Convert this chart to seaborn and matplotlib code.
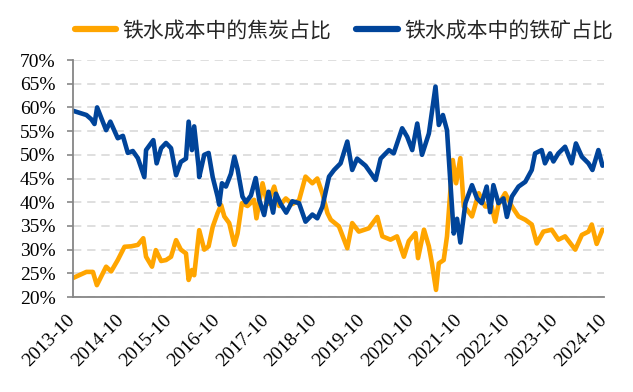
import matplotlib
matplotlib.use("Agg")
import matplotlib.pyplot as plt
import matplotlib.dates as mdates
import seaborn as sns
import pandas as pd
from matplotlib.ticker import MultipleLocator, PercentFormatter

# ---- data ----
coke_dates = ["2013-10-03", "2014-01-13", "2014-03-03", "2014-04-02", "2014-06-11", "2014-07-19",
              "2014-09-07", "2014-10-28", "2014-12-18", "2015-02-06", "2015-03-19", "2015-04-09",
              "2015-05-24", "2015-06-22", "2015-08-01", "2015-09-07", "2015-10-15", "2015-11-22",
              "2015-12-28", "2016-02-05", "2016-02-25", "2016-03-21", "2016-04-07", "2016-05-15",
              "2016-06-22", "2016-07-25", "2016-08-25", "2016-10-01", "2016-10-28", "2016-11-21",
              "2016-12-28", "2017-02-05", "2017-03-01", "2017-04-03", "2017-05-15", "2017-07-04",
              "2017-07-22", "2017-09-06", "2017-10-13", "2017-12-03", "2018-01-10", "2018-03-01",
              "2018-04-19", "2018-06-09", "2018-07-28", "2018-09-18", "2018-10-25", "2018-12-02",
              "2019-01-10", "2019-02-04", "2019-04-07", "2019-06-09", "2019-07-16", "2019-09-04",
              "2019-11-19", "2020-01-22", "2020-02-29", "2020-05-01", "2020-06-19", "2020-08-10",
              "2020-09-16", "2020-11-06", "2020-11-25", "2021-01-09", "2021-02-15", "2021-03-10",
              "2021-04-10", "2021-05-01", "2021-06-07", "2021-07-02", "2021-07-28", "2021-08-15",
              "2021-09-09", "2021-10-11", "2021-11-06", "2021-12-01", "2022-01-07", "2022-02-27",
              "2022-04-17", "2022-06-05", "2022-07-01", "2022-07-26", "2022-09-15", "2022-11-05",
              "2022-12-25", "2023-02-14", "2023-04-04", "2023-05-12", "2023-07-01", "2023-09-02",
              "2023-10-22", "2023-12-12", "2024-02-27", "2024-04-17", "2024-06-06", "2024-07-01",
              "2024-08-07", "2024-09-20"]
coke_vals = [24.0, 25.3, 25.3, 22.5, 26.4, 25.4,
             27.8, 30.6, 30.7, 31.0, 32.4, 28.5,
             26.4, 29.9, 27.6, 27.8, 28.5, 32.0,
             30.0, 29.2, 23.6, 25.7, 24.6, 34.1,
             30.0, 30.7, 34.8, 37.7, 39.4, 37.0,
             35.6, 31.0, 33.4, 39.8, 39.2, 40.5,
             36.6, 44.0, 39.6, 43.3, 39.2, 40.8,
             39.6, 40.4, 45.4, 44.0, 45.0, 41.9,
             37.7, 36.3, 34.9, 30.3, 35.6, 33.8,
             34.5, 36.9, 32.8, 32.1, 32.8, 28.5,
             31.8, 33.5, 28.2, 34.2, 30.7, 27.1,
             21.5, 27.1, 27.8, 32.8, 42.6, 48.9,
             44.0, 49.3, 39.1, 38.4, 37.0, 41.9,
             39.1, 39.1, 35.9, 39.5, 41.9, 39.1,
             37.0, 36.3, 35.3, 31.3, 33.8, 34.2,
             32.1, 32.8, 30.0, 33.1, 33.8, 35.3,
             31.2, 34.2]

ore_dates = ["2013-10-03", "2014-01-13", "2014-02-19", "2014-03-15", "2014-04-04", "2014-06-11",
             "2014-07-13", "2014-09-07", "2014-10-16", "2014-11-22", "2014-12-30", "2015-02-06",
             "2015-03-27", "2015-04-09", "2015-06-03", "2015-06-28", "2015-08-01", "2015-09-07",
             "2015-10-15", "2015-11-22", "2015-12-28", "2016-02-05", "2016-02-25", "2016-03-21",
             "2016-04-07", "2016-05-10", "2016-05-15", "2016-06-22", "2016-07-25", "2016-08-25",
             "2016-10-01", "2016-10-13", "2016-11-03", "2016-12-03", "2017-01-10", "2017-02-05",
             "2017-03-01", "2017-04-07", "2017-05-03", "2017-06-10", "2017-07-16", "2017-08-12",
             "2017-09-18", "2017-10-21", "2017-11-25", "2017-12-16", "2018-01-22", "2018-03-04",
             "2018-04-19", "2018-06-09", "2018-07-28", "2018-09-18", "2018-10-25", "2018-12-02",
             "2019-01-22", "2019-03-01", "2019-04-19", "2019-06-09", "2019-07-16", "2019-08-22",
             "2019-10-25", "2020-01-09", "2020-02-16", "2020-04-19", "2020-05-25", "2020-07-28",
             "2020-09-04", "2020-10-12", "2020-11-19", "2020-12-25", "2021-02-15", "2021-04-06",
             "2021-05-01", "2021-06-01", "2021-07-02", "2021-07-28", "2021-08-22", "2021-09-16",
             "2021-10-11", "2021-11-18", "2022-01-07", "2022-02-14", "2022-03-22", "2022-04-28",
             "2022-05-24", "2022-06-18", "2022-07-26", "2022-09-02", "2022-09-28", "2022-11-05",
             "2022-12-25", "2023-02-14", "2023-04-04", "2023-04-29", "2023-06-18", "2023-07-13",
             "2023-08-20", "2023-09-15", "2023-10-22", "2023-12-12", "2024-01-31", "2024-03-03",
             "2024-04-17", "2024-06-06", "2024-07-06", "2024-08-20", "2024-09-20"]
ore_vals = [59.3, 58.4, 57.5, 56.5, 60.0, 55.2,
            57.0, 53.5, 54.0, 50.4, 50.8, 49.3,
            45.3, 51.0, 53.1, 48.2, 51.4, 52.5,
            51.4, 45.7, 48.5, 49.2, 57.0, 51.0,
            56.0, 47.5, 45.3, 50.0, 50.4, 45.3,
            41.2, 39.5, 44.0, 43.3, 46.0, 49.6,
            47.0, 41.2, 40.0, 41.4, 45.1, 40.5,
            37.3, 42.2, 37.8, 41.8, 39.6, 37.8,
            40.2, 39.8, 35.9, 37.4, 36.6, 39.0,
            45.4, 46.8, 48.2, 52.8, 46.8, 49.2,
            47.7, 44.7, 49.2, 51.0, 50.3, 55.6,
            53.8, 51.0, 56.6, 50.0, 54.5, 64.4,
            56.3, 58.4, 55.2, 44.0, 33.4, 36.5,
            31.5, 39.8, 43.6, 40.8, 39.8, 43.3,
            37.9, 43.6, 39.8, 40.8, 36.9, 41.2,
            43.3, 44.3, 46.8, 50.3, 51.0, 48.2,
            50.3, 48.6, 50.3, 51.7, 48.2, 52.4,
            49.6, 48.2, 46.8, 51.0, 47.7]

series_names = ["铁水成本中的焦炭占比", "铁水成本中的铁矿占比"]
series_colors = ["#FFA500", "#00449A"]
tick_years = list(range(2013, 2025))

df = pd.concat([
    pd.DataFrame({"date": pd.to_datetime(coke_dates), "value": coke_vals, "series": series_names[0]}),
    pd.DataFrame({"date": pd.to_datetime(ore_dates), "value": ore_vals, "series": series_names[1]}),
])

sns.set_theme(style="white")
plt.rcParams["font.family"] = ["Liberation Serif", "Noto Sans CJK SC", "DejaVu Sans"]

fig = plt.figure(figsize=(6.33, 3.92), dpi=100)
ax = fig.add_axes([0.1148, 0.2423, 0.8393, 0.6046])

sns.lineplot(data=df, x="date", y="value", hue="series", hue_order=series_names,
             palette=series_colors, linewidth=3.3, ax=ax, legend=False)

ax.set_ylim(20, 70)
ax.yaxis.set_major_locator(MultipleLocator(5))
ax.yaxis.set_major_formatter(PercentFormatter(decimals=0))
ax.set_xlim(pd.Timestamp("2013-10-01"), pd.Timestamp("2024-10-01"))
ax.set_xticks([pd.Timestamp(f"{y}-10-01") for y in tick_years])
ax.xaxis.set_major_formatter(mdates.DateFormatter("%Y-%m"))
ax.set_xlabel("")
ax.set_ylabel("")

ax.grid(axis="y", color="#D9D9D9", linestyle=(0, (5, 3.5)), linewidth=1.2)
ax.grid(axis="x", visible=False)
ax.set_axisbelow(True)
for s in ["top", "right"]:
    ax.spines[s].set_visible(False)
for s in ["left", "bottom"]:
    ax.spines[s].set_color("#868686")
    ax.spines[s].set_linewidth(1.3)

ax.tick_params(axis="y", which="major", left=True, length=4.3, width=1.2, color="#868686",
               labelsize=14, pad=8, labelcolor="#000000")
ax.tick_params(axis="x", which="major", bottom=False, length=0, labelsize=14, pad=15,
               labelcolor="#000000")
for lab in ax.get_xticklabels():
    lab.set_rotation(45)
    lab.set_ha("right")
    lab.set_va("center")
    lab.set_rotation_mode("anchor")

handles = [plt.Line2D([0], [0], color=c, linewidth=4.5, solid_capstyle="round") for c in series_colors]
fig.legend(handles, series_names, loc="center", bbox_to_anchor=(0.543, 0.923), ncol=2,
           frameon=False, prop={"family": ["Noto Sans CJK SC"], "size": 15},
           handlelength=2.0, handletextpad=0.3, columnspacing=1.2)

fig.savefig("out.png", dpi=100)
